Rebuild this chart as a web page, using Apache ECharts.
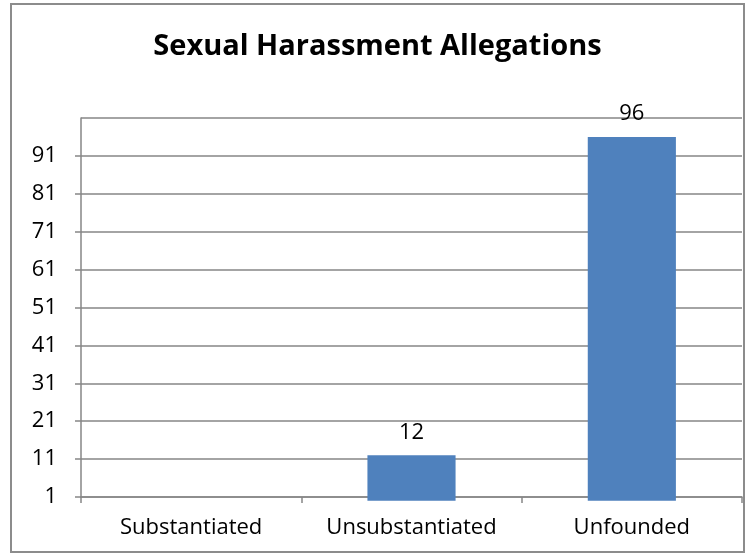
<!DOCTYPE html>
<html>
<head>
<meta charset="utf-8">
<script src="https://cdn.jsdelivr.net/npm/echarts@6/dist/echarts.min.js"></script>
<style>
  html, body { margin: 0; padding: 0; background: #ffffff; }
  #chart {
    position: absolute;
    left: 10px;
    top: 3px;
    width: 735px;
    height: 550px;
    border: 2px solid #8c8c8c;
    box-sizing: border-box;
  }
</style>
</head>
<body>
<div id="chart"></div>
<script>
  const categories = ["Substantiated", "Unsubstantiated", "Unfounded"];
  const allegations = [0, 12, 96];
  const yMin = 1;
  const yMax = 101;
  const yStep = 10;

  const chart = echarts.init(document.getElementById("chart"));
  chart.setOption({
    animation: false,
    textStyle: { fontFamily: "Open Sans" },
    title: {
      text: "Sexual Harassment Allegations",
      left: "center",
      top: 22,
      textStyle: {
        fontSize: 29,
        fontWeight: "bold",
        fontFamily: "Open Sans",
        color: "#000000"
      }
    },
    grid: {
      left: 69,
      right: 1,
      top: 113,
      bottom: 54
    },
    xAxis: {
      type: "category",
      data: categories,
      axisLine: { lineStyle: { color: "#868686", width: 1.5 } },
      axisTick: { show: true, length: 6, lineStyle: { color: "#868686", width: 1.5 } },
      axisLabel: {
        color: "#000000",
        fontSize: 22,
        margin: 20,
        interval: 0,
        hideOverlap: false
      }
    },
    yAxis: {
      type: "value",
      min: yMin,
      max: yMax,
      interval: yStep,
      axisLine: { show: true, lineStyle: { color: "#868686", width: 1.5 } },
      axisTick: { show: true, length: 6, lineStyle: { color: "#868686", width: 1.5 } },
      axisLabel: {
        color: "#000000",
        fontSize: 22,
        margin: 24,
        showMaxLabel: false
      },
      splitLine: { lineStyle: { color: "#868686", width: 1.5 } }
    },
    series: [
      {
        name: "Allegations",
        type: "bar",
        data: allegations,
        barWidth: "40%",
        clip: false,
        itemStyle: { color: "#4f81bd" },
        label: {
          show: true,
          position: "top",
          distance: 12,
          color: "#000000",
          fontSize: 22,
          formatter: p => (p.value > 0 ? p.value : "")
        }
      }
    ]
  });
</script>
</body>
</html>
